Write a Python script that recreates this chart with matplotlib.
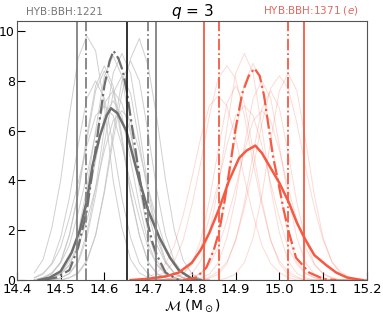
import numpy as np
import matplotlib
matplotlib.use("Agg")
import matplotlib.pyplot as plt

# shared grids for the thin per-run curves
gray_grid = np.round(np.arange(14.44, 14.841, 0.02), 2)
red_grid = np.round(np.arange(14.68, 15.201, 0.02), 2)

gray_thin = [
    [0.29, 0.83, 2.1, 4.0, 6.6, 8.9, 9.8, 9.2, 7.0, 4.0, 2.1, 0.83, 0.29, 0.1, 0, 0, 0, 0, 0, 0, 0],
    [0, 0, 0, 0, 0.1, 0.3, 0.8, 1.8, 3.5, 5.6, 7.5, 8.9, 9.7, 8.6, 6.5, 4.0, 2.0, 0.8, 0.25, 0.05, 0],
    [0, 0, 0.09, 0.27, 0.77, 1.9, 3.7, 6.0, 8.2, 9.0, 8.2, 6.0, 3.7, 1.9, 0.77, 0.27, 0.09, 0, 0, 0, 0],
    [0, 0.09, 0.26, 0.73, 1.8, 3.5, 5.8, 7.8, 8.6, 7.8, 5.8, 3.5, 1.8, 0.73, 0.26, 0.09, 0, 0, 0, 0, 0],
    [0, 0, 0, 0.08, 0.25, 0.7, 1.7, 3.4, 5.5, 7.5, 8.2, 7.5, 5.5, 3.4, 1.7, 0.7, 0.25, 0.08, 0, 0, 0],
    [0, 0.11, 0.3, 0.68, 1.4, 2.7, 4.2, 5.9, 7.1, 7.6, 7.1, 5.9, 4.2, 2.7, 1.4, 0.68, 0.3, 0.11, 0, 0, 0],
    [0, 0, 0, 0.09, 0.27, 0.77, 1.9, 3.7, 6.1, 8.3, 9.1, 8.3, 6.1, 3.7, 1.9, 0.77, 0.27, 0.09, 0, 0, 0],
    [0.1, 0.28, 0.63, 1.3, 2.5, 3.9, 5.4, 6.6, 7.0, 6.6, 5.4, 3.9, 2.5, 1.3, 0.63, 0.28, 0.1, 0, 0, 0, 0],
    [0.08, 0.24, 0.68, 1.7, 3.3, 5.4, 7.3, 8.0, 7.3, 5.4, 3.3, 1.7, 0.68, 0.24, 0.08, 0, 0, 0, 0, 0, 0],
    [0, 0, 0, 0, 0.09, 0.26, 0.75, 1.8, 3.6, 5.9, 8.0, 8.8, 8.0, 5.9, 3.6, 1.8, 0.75, 0.26, 0.09, 0, 0],
    [0, 0, 0.1, 0.27, 0.61, 1.3, 2.4, 3.7, 5.2, 6.4, 6.8, 6.4, 5.2, 3.7, 2.4, 1.3, 0.61, 0.27, 0.1, 0, 0],
    [0, 0.08, 0.25, 0.71, 1.8, 3.4, 5.6, 7.6, 8.4, 7.6, 5.6, 3.4, 1.8, 0.71, 0.25, 0.08, 0, 0, 0, 0, 0],
    [0, 0, 0.07, 0.22, 0.61, 1.5, 3.0, 4.8, 6.6, 7.2, 6.6, 4.8, 3.0, 1.5, 0.61, 0.22, 0.07, 0, 0, 0, 0],
]

red_thin = [
    [0]*5 + [0.09, 0.27, 0.77, 1.9, 3.7, 6.1, 8.3, 9.1, 8.3, 6.1, 3.7, 1.9, 0.77, 0.27, 0.09] + [0]*7,
    [0]*2 + [0.13, 0.34, 0.77, 1.6, 3.0, 4.7, 6.6, 8.1, 8.6, 8.1, 6.6, 4.7, 3.0, 1.6, 0.77, 0.34, 0.13] + [0]*8,
    [0]*7 + [0.08, 0.24, 0.68, 1.7, 3.3, 5.4, 7.3, 8.0, 7.3, 5.4, 3.3, 1.7, 0.68, 0.24, 0.08] + [0]*5,
    [0]*8 + [0.12, 0.33, 0.74, 1.6, 2.9, 4.5, 6.3, 7.7, 8.2, 7.7, 6.3, 4.5, 2.9, 1.6, 0.74, 0.33, 0.12] + [0]*2,
    [0]*10 + [0.08, 0.25, 0.71, 1.7, 3.4, 5.6, 7.6, 8.3, 7.6, 5.6, 3.4, 1.7, 0.71, 0.25, 0.08] + [0]*2,
    [0]*8 + [0.08, 0.23, 0.65, 1.6, 3.1, 5.1, 6.9, 7.6, 6.9, 5.1, 3.1, 1.6, 0.65, 0.23, 0.08] + [0]*4,
    [0] + [0.11, 0.3, 0.67, 1.4, 2.6, 4.1, 5.7, 7.0, 7.4, 7.0, 5.7, 4.1, 2.6, 1.4, 0.67, 0.3, 0.11] + [0]*9,
    [0]*6 + [0.09, 0.26, 0.74, 1.8, 3.6, 5.8, 7.9, 8.7, 7.9, 5.8, 3.6, 1.8, 0.74, 0.26, 0.09] + [0]*6,
    [0]*6 + [0.1, 0.27, 0.61, 1.3, 2.4, 3.7, 5.2, 6.4, 6.8, 6.4, 5.2, 3.7, 2.4, 1.3, 0.61, 0.27, 0.1] + [0]*4,
    [0]*4 + [0.1, 0.28, 0.63, 1.3, 2.5, 3.9, 5.4, 6.6, 7.0, 6.6, 5.4, 3.9, 2.5, 1.3, 0.63, 0.28, 0.1] + [0]*6,
    [0]*4 + [0.08, 0.23, 0.66, 1.6, 3.2, 5.2, 7.1, 7.8, 7.1, 5.2, 3.2, 1.6, 0.66, 0.23, 0.08] + [0]*8,
]

# combined curves
gray_solid_x = [14.45, 14.475, 14.50, 14.525, 14.544, 14.56, 14.573, 14.59, 14.605, 14.615, 14.63,
                14.65, 14.665, 14.68, 14.70, 14.726, 14.75, 14.77, 14.80, 14.82]
gray_solid_y = [0.0, 0.1, 0.35, 1.1, 2.0, 3.2, 4.6, 5.8, 6.6, 6.9, 6.7,
                6.0, 5.0, 4.0, 2.8, 1.7, 0.9, 0.4, 0.05, 0.0]

gray_dash_x = [14.46, 14.49, 14.52, 14.54, 14.56, 14.573, 14.585, 14.60, 14.612, 14.621, 14.632,
               14.642, 14.651, 14.662, 14.673, 14.685, 14.696, 14.71, 14.72, 14.74, 14.77]
gray_dash_y = [0.0, 0.1, 0.4, 1.3, 2.8, 4.4, 5.9, 7.8, 8.8, 9.2, 8.9,
               8.4, 7.6, 6.3, 5.0, 3.6, 2.5, 1.5, 1.0, 0.3, 0.0]

red_solid_x = [14.66, 14.70, 14.74, 14.77, 14.80, 14.82, 14.84, 14.863, 14.885, 14.908, 14.925,
               14.945, 14.96, 14.98, 15.0, 15.022, 15.04, 15.06, 15.08, 15.107, 15.13, 15.155, 15.19]
red_solid_y = [0.0, 0.05, 0.15, 0.3, 0.7, 1.2, 1.9, 2.9, 4.0, 4.9, 5.2,
               5.4, 5.1, 4.5, 3.9, 3.1, 2.3, 1.6, 1.0, 0.6, 0.3, 0.1, 0.0]

red_dash_x = [14.78, 14.81, 14.833, 14.85, 14.863, 14.875, 14.89, 14.90, 14.915, 14.93, 14.943,
              14.955, 14.965, 14.975, 14.985, 15.0, 15.01, 15.022, 15.038, 15.068, 15.1, 15.13]
red_dash_y = [0.0, 0.1, 0.5, 1.2, 2.0, 3.2, 4.9, 6.1, 7.5, 8.2, 8.5,
              8.2, 7.4, 6.2, 5.0, 3.7, 2.8, 1.9, 0.9, 0.3, 0.05, 0.0]

# interval markers
gray_solid_lines = [14.537, 14.717]
gray_dash_lines = [14.557, 14.699]
black_line = 14.651
red_solid_lines = [14.828, 15.056]
red_dash_lines = [14.863, 15.020]

xticks = [14.4, 14.5, 14.6, 14.7, 14.8, 14.9, 15.0, 15.1, 15.2]
yticks = [0, 2, 4, 6, 8, 10]

red = '#f55a42'
gray = '#6e6e6e'

fig = plt.figure(figsize=(3.83, 3.19), dpi=100)
ax = fig.add_axes([0.044, 0.122, 0.914, 0.812])

for y in gray_thin:
    ax.plot(gray_grid, y, color='#c4c4c4', lw=0.7, alpha=0.8)
for y in red_thin:
    ax.plot(red_grid, y, color=red, lw=0.7, alpha=0.22)

ax.plot(gray_solid_x, gray_solid_y, color=gray, lw=1.8)
ax.plot(gray_dash_x, gray_dash_y, color=gray, lw=1.6, ls='-.')
ax.plot(red_solid_x, red_solid_y, color=red, lw=1.8)
ax.plot(red_dash_x, red_dash_y, color=red, lw=1.6, ls='-.')

for v in gray_solid_lines:
    ax.axvline(v, color='#808080', lw=1.3)
for v in gray_dash_lines:
    ax.axvline(v, color='#808080', lw=1.3, ls='-.')
ax.axvline(black_line, color='#222222', lw=1.3)
for v in red_solid_lines:
    ax.axvline(v, color=red, lw=1.3)
for v in red_dash_lines:
    ax.axvline(v, color=red, lw=1.3, ls='-.')

ax.set_xlim(14.4, 15.2)
ax.set_ylim(0, 10.4)
ax.set_xticks(xticks)
ax.set_yticks(yticks)
ax.tick_params(direction='in', length=6, labelsize=9.5, pad=2)
ax.tick_params(axis='y', labelsize=9, pad=1.5)
for s in ax.spines.values():
    s.set_color('#555555')

ax.set_xlabel(r'$\mathcal{M}$ (M$_\odot$)', fontsize=10, labelpad=1)
ax.set_title(r'$q$ = 3', fontsize=11, pad=3)
ax.text(0.137, 1.015, 'HYB:BBH:1221', transform=ax.transAxes, fontsize=7.5,
        color='#777777', ha='center', va='bottom')
ax.text(0.84, 1.015, r'HYB:BBH:1371 ($e$)', transform=ax.transAxes, fontsize=7.5,
        color='#e06a62', ha='center', va='bottom')

fig.savefig('out.png', dpi=100)
